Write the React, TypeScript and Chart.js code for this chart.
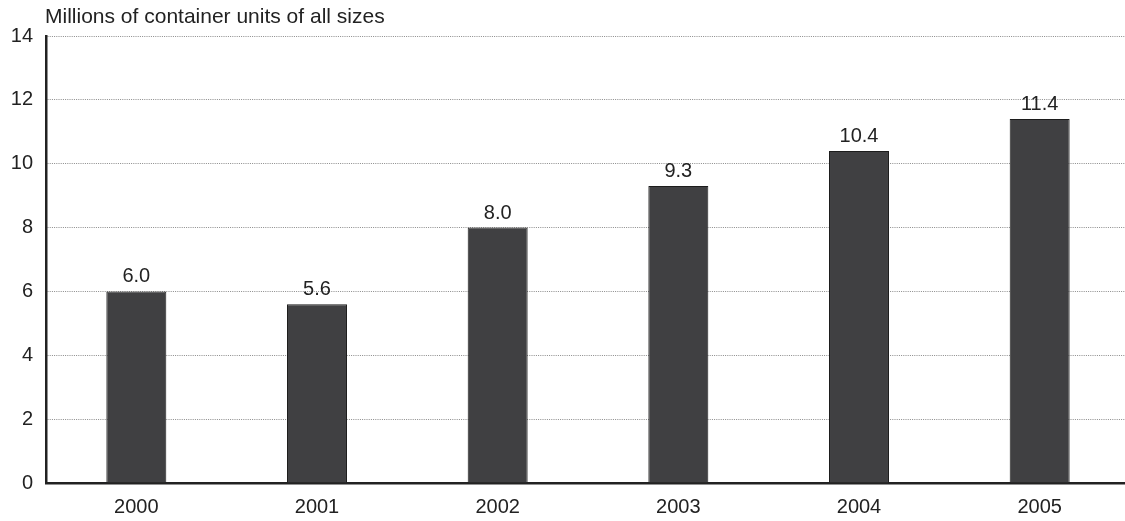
import React, { useEffect, useRef } from "react";
import { Chart, registerables } from "chart.js";

Chart.register(...registerables);

const years = ["2000", "2001", "2002", "2003", "2004", "2005"];
const containerUnits = [6.0, 5.6, 8.0, 9.3, 10.4, 11.4];
const yTicks = [0, 2, 4, 6, 8, 10, 12, 14];
const unitTitle = "Millions of container units of all sizes";

const FONT = "'Liberation Sans', Arial, Helvetica, sans-serif";
const INK = "#222222";

// Writes the value above each bar and the unit caption above the plot.
const annotate = {
  id: "annotate",
  afterDatasetsDraw(chart: any) {
    const { ctx } = chart;
    const meta = chart.getDatasetMeta(0);
    ctx.save();
    ctx.font = `20px ${FONT}`;
    ctx.fillStyle = INK;
    ctx.textAlign = "center";
    ctx.textBaseline = "alphabetic";
    meta.data.forEach((bar: any, i: number) => {
      ctx.fillText(containerUnits[i].toFixed(1), bar.x, bar.y - 9);
    });
    ctx.font = `21px ${FONT}`;
    ctx.textAlign = "left";
    ctx.fillText(unitTitle, 45, 23);
    ctx.restore();
  },
};

export default function App() {
  const canvasRef = useRef<HTMLCanvasElement | null>(null);

  useEffect(() => {
    if (!canvasRef.current) return;
    const chart = new Chart(canvasRef.current, {
      type: "bar",
      data: {
        labels: years,
        datasets: [
          {
            data: containerUnits,
            backgroundColor: "#404042",
            borderColor: "#1c1c1c",
            borderWidth: 1,
            barPercentage: 0.332,
            categoryPercentage: 1,
          },
        ],
      },
      options: {
        animation: false,
        responsive: false,
        devicePixelRatio: 1,
        layout: { padding: { top: 36, right: 1, left: 0, bottom: 0 } },
        plugins: {
          legend: { display: false },
          tooltip: { enabled: false },
          title: { display: false },
        },
        scales: {
          x: {
            type: "category",
            offset: true,
            grid: { display: false, drawTicks: false },
            border: { display: true, color: INK, width: 2.5 },
            ticks: {
              color: INK,
              font: { family: FONT, size: 20 },
              padding: 12,
              maxRotation: 0,
              autoSkip: false,
            },
            afterFit: (scale: any) => {
              scale.height = 38;
            },
          },
          y: {
            min: 0,
            max: 14,
            grid: {
              color: (c: any) => (c.tick && c.tick.value === 0 ? "rgba(0,0,0,0)" : "#8a8a8a"),
              lineWidth: 1,
              drawTicks: false,
            },
            // dash applies to the dotted horizontal grid lines
            border: { display: true, color: INK, width: 2.5, dash: [1, 1.2] as any },
            ticks: {
              color: INK,
              font: { family: FONT, size: 20 },
              padding: 13,
            },
            afterBuildTicks: (scale: any) => {
              scale.ticks = yTicks.map((v) => ({ value: v }));
            },
            afterFit: (scale: any) => {
              scale.width = 46;
            },
          },
        },
      },
      plugins: [annotate],
    });
    return () => chart.destroy();
  }, []);

  return (
    <div
      style={{
        position: "fixed",
        left: 0,
        top: 0,
        width: 1125,
        height: 521,
        overflow: "hidden",
        background: "#ffffff",
      }}
    >
      <canvas ref={canvasRef} width={1131} height={521} style={{ display: "block" }} />
    </div>
  );
}
